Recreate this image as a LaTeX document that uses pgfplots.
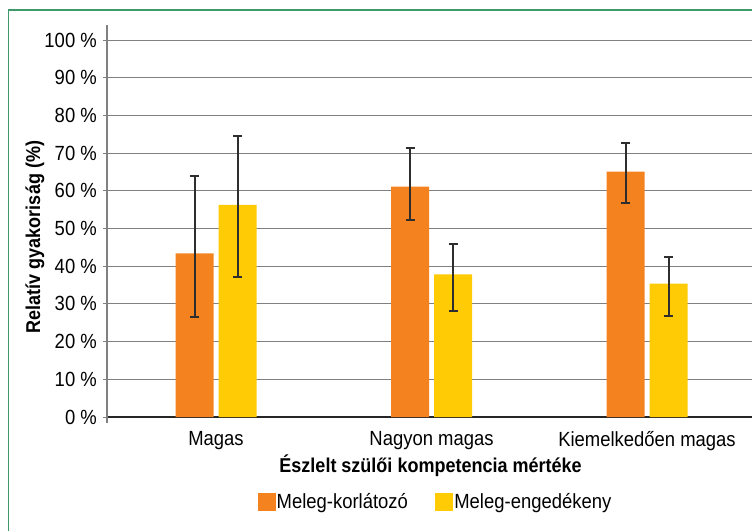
\documentclass[border=0pt]{standalone}
\usepackage{pgfplots}
\pgfplotsset{compat=1.18}
\usepackage{fontspec}
\setmainfont[FakeStretch=0.9]{Liberation Sans}
\definecolor{korl}{HTML}{F4831F}
\definecolor{enged}{HTML}{FECB05}
\definecolor{frame}{HTML}{3E9A6B}
\definecolor{gridc}{HTML}{808080}
\definecolor{errc}{HTML}{2E2E2E}
\begin{document}
\begin{tikzpicture}[x=1pt,y=1pt]
\useasboundingbox (0,0) rectangle (752,531);
\draw[frame, line width=1.5pt] (8.5,0) -- (8.5,521) -- (752,521);
\node[rotate=90, font=\fontsize{20}{22}\selectfont\bfseries] at (35,294) {Relatív gyakoriság (\%)};
\begin{axis}[
  at={(107pt,114pt)}, anchor=south west,
  scale only axis, width=645pt, height=377pt,
  xmin=-0.5058, xmax=2.487, ymin=0, ymax=100,
  axis line style={draw=none},
  clip=false,
  ybar, bar width=38pt,
  ytick={0,10,...,100},
  yticklabels={0 \%,10 \%,20 \%,30 \%,40 \%,50 \%,60 \%,70 \%,80 \%,90 \%,100 \%},
  xtick={0,1,2},
  xticklabels={Magas,Nagyon magas,Kiemelkedően magas},
  ymajorgrids,
  grid style={gridc, line width=1pt},
  x tick style={draw=none},
  y tick style={gridc, line width=1pt},
  tick align=outside, major tick length=4pt,
  tick label style={font=\fontsize{20.5}{22}\selectfont},
  yticklabel style={inner sep=0pt, anchor=east, xshift=-6pt},
  xticklabel style={inner sep=0pt, anchor=north, yshift=-10pt},
  xlabel={Észlelt szülői kompetencia mértéke},
  xlabel style={font=\fontsize{20}{22}\selectfont\bfseries, at={(rel axis cs:0.5016,-0.13)}, anchor=center},
  legend columns=2,
  legend style={at={(0.509,-0.2255)}, anchor=center, draw=none, fill=none,
    font=\fontsize{20.5}{22}\selectfont, inner sep=0pt,
    /tikz/every even column/.append style={column sep=26pt},
    nodes={inner sep=1.5pt}},
  legend cell align=left,
]
\draw[black!85, line width=1.3pt] (rel axis cs:0,0) -- (rel axis cs:1,0);
\addplot[fill=korl, draw=none, bar shift=-21.5pt, forget plot,
  error bars/.cd, y dir=both, y explicit,
  error bar style={line width=2pt, draw=errc, solid},
  error mark options={rotate=90, mark size=4.5pt, line width=2pt, draw=errc}] coordinates {
  (0,43.4) += (0,20.4) -= (0,16.9)
  (1,61.1) += (0,10.3) -= (0,8.9)
  (2,65.1) += (0,7.5) -= (0,8.4)
};
\addplot[fill=enged, draw=none, bar shift=21.5pt, forget plot,
  error bars/.cd, y dir=both, y explicit,
  error bar style={line width=2pt, draw=errc, solid},
  error mark options={rotate=90, mark size=4.5pt, line width=2pt, draw=errc}] coordinates {
  (0,56.3) += (0,18.2) -= (0,19.1)
  (1,37.8) += (0,8.0) -= (0,9.6)
  (2,35.4) += (0,7.1) -= (0,8.7)
};
\draw[gridc, line width=1.5pt] (rel axis cs:0,-0.015) -- (rel axis cs:0,1.0398);
\addlegendimage{legend image code/.code={\fill[korl] (0pt,-8.5pt) rectangle (17pt,8.5pt);}}
\addlegendentry{Meleg-korlátozó}
\addlegendimage{legend image code/.code={\fill[enged] (0pt,-8.5pt) rectangle (17pt,8.5pt);}}
\addlegendentry{Meleg-engedékeny}
\end{axis}
\end{tikzpicture}
\end{document}
